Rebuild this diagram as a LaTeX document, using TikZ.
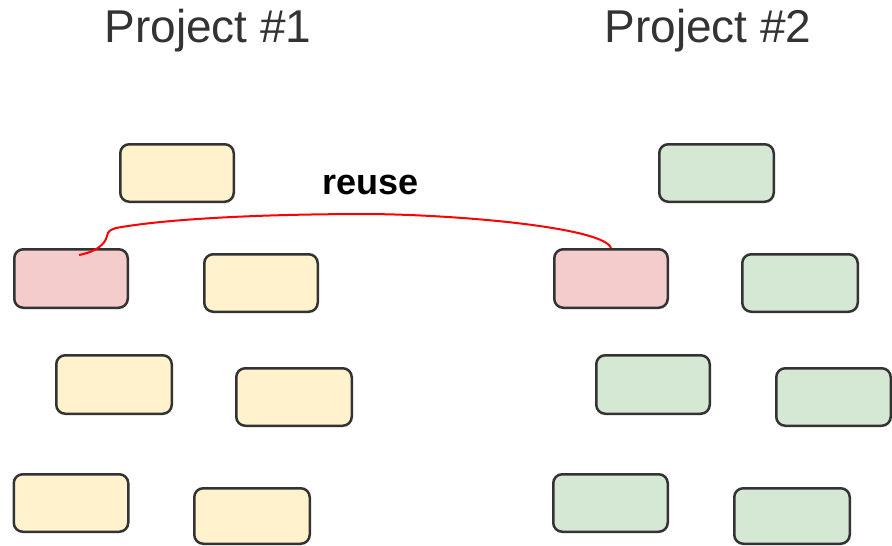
\documentclass[tikz,border=0pt]{standalone}
\usepackage{fontspec}
\setmainfont{Liberation Sans}
\definecolor{boxline}{HTML}{333333}
\definecolor{paleyellow}{HTML}{FFF2CC}
\definecolor{palegreen}{HTML}{D5E8D4}
\definecolor{palered}{HTML}{F4CCCC}
\tikzset{
  card/.style={draw=boxline, line width=2.5pt, rounded corners=9pt,
    minimum width=113.5pt, minimum height=57.5pt, inner sep=0pt},
  yellowcard/.style={card, fill=paleyellow},
  greencard/.style={card, fill=palegreen},
  redcard/.style={card, fill=palered},
  title/.style={font=\fontsize{46}{55}\selectfont, text=boxline, anchor=base, inner sep=0pt},
  link/.style={draw=red, line width=2pt}
}
\begin{document}
\begin{tikzpicture}[x=1pt, y=-1pt]
  \useasboundingbox (0,0) rectangle (892,546);

  % headings
  \node[title] (t1) at (208,42) {Project \#1};
  \node[title] (t2) at (708,42) {Project \#2};

  % first project
  \node[yellowcard] (a1) at (177,173) {};
  \node[redcard, minimum height=58.5pt] (ar) at (71,278.5) {};
  \node[yellowcard] (a2) at (261,283) {};
  \node[yellowcard, minimum width=115.5pt, minimum height=58.5pt] (a3) at (114,384.5) {};
  \node[yellowcard, minimum width=115.5pt] (a4) at (294,397) {};
  \node[yellowcard, minimum width=114.5pt] (a5) at (71,503) {};
  \node[yellowcard, minimum width=115.5pt, minimum height=55.5pt] (a6) at (252,516) {};

  % second project
  \node[greencard, minimum width=114.5pt] (b1) at (716.5,173) {};
  \node[redcard, minimum height=58.5pt] (br) at (611,278.5) {};
  \node[greencard, minimum width=115.5pt] (b2) at (800,283) {};
  \node[greencard, minimum height=58.5pt] (b3) at (653,384.5) {};
  \node[greencard, minimum width=114.5pt] (b4) at (833.5,397) {};
  \node[greencard, minimum width=114.5pt] (b5) at (610.5,503) {};
  \node[greencard, minimum width=115.5pt, minimum height=55.5pt] (b6) at (792,516) {};

  % reuse link
  \coordinate (src) at (79,255);
  \draw[link] (src) .. controls (95,252) and (105,245) .. (107,236)
    .. controls (108,231) and (110,230) .. (116,228)
    .. controls (165,219) and (260,214) .. (370,214)
    .. controls (465,215) and (604,228) .. (br.north);
  \node[font=\fontsize{36}{43}\selectfont\bfseries, anchor=base, inner sep=0pt]
    (lbl) at (370.5,194) {reuse};
\end{tikzpicture}
\end{document}
